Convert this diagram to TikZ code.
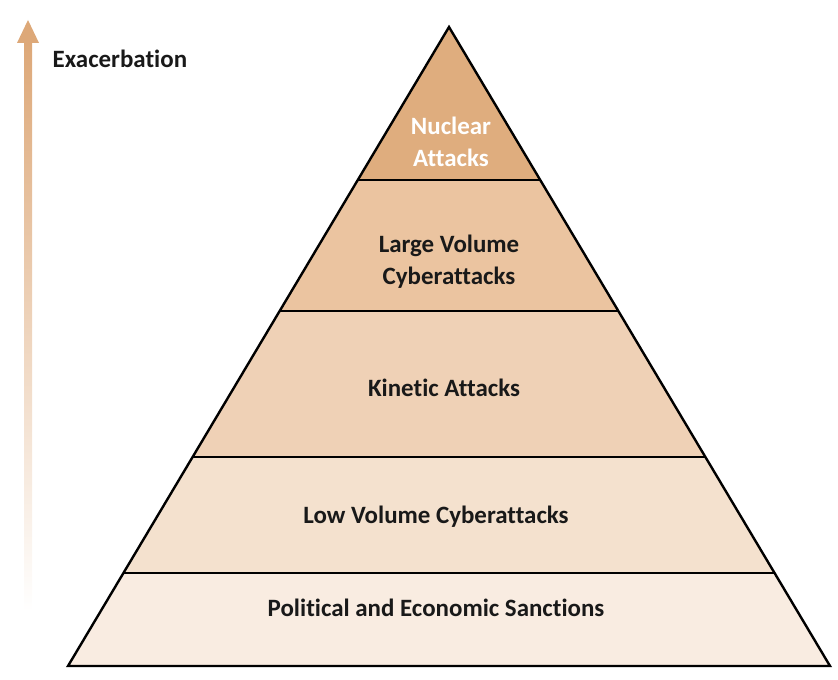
\documentclass[tikz,border=0pt]{standalone}
\usepackage{fontspec}
\setmainfont{Carlito}[Ligatures=NoCommon]
\usetikzlibrary{calc}
\begin{document}
\begin{tikzpicture}[x=0.75pt,y=-0.75pt,
  layer/.style={draw=black,line width=1.8pt,line join=miter},
  lbl/.style={font=\bfseries\fontsize{18.7}{24}\selectfont,align=center,text=black!90}]
\useasboundingbox (0,0) rectangle (838,680);
\definecolor{cA}{HTML}{DFAD7E}
\definecolor{cB}{HTML}{EBC4A0}
\definecolor{cC}{HTML}{EFD1B6}
\definecolor{cD}{HTML}{F4E1CE}
\definecolor{cE}{HTML}{F9ECE1}
\definecolor{arr}{HTML}{DDA878}
% pyramid corners
\coordinate (T) at (449,27);
\coordinate (L) at (68,666);
\coordinate (R) at (830,666);
\foreach \y/\n in {180/a,311/b,457/c,573/d}{
  \coordinate (l\n) at ($(T)!{(\y-27)/639}!(L)$);
  \coordinate (r\n) at ($(T)!{(\y-27)/639}!(R)$);
}
\fill[cE] (ld) -- (rd) -- (R) -- (L) -- cycle;
\fill[cD] (lc) -- (rc) -- (rd) -- (ld) -- cycle;
\fill[cC] (lb) -- (rb) -- (rc) -- (lc) -- cycle;
\fill[cB] (la) -- (ra) -- (rb) -- (lb) -- cycle;
\fill[cA] (T) -- (ra) -- (la) -- cycle;
\draw[layer] (T) -- (R) -- (L) -- cycle;
\foreach \n in {a,b,c,d}{\draw[layer] (l\n) -- (r\n);}
% labels
\node[lbl,text=white] (n1) at (451,142) {Nuclear\\Attacks};
\node[lbl] (n2) at (449,262) {Large Volume\\Cyberattacks};
\node[lbl] (n3) at (444,388) {Kinetic Attacks};
\node[lbl] (n4) at (436,517) {Low Volume Cyberattacks};
\node[lbl] (n5) at (436,608) {Political and Economic Sanctions};
% arrow
\shade[top color=arr,bottom color=white] (24,42) rectangle (32,612);
\fill[arr] (28,20) -- (39,43) -- (17,43) -- cycle;
\node[lbl,anchor=west] (ex) at (48,59) {Exacerbation};
\end{tikzpicture}
\end{document}
